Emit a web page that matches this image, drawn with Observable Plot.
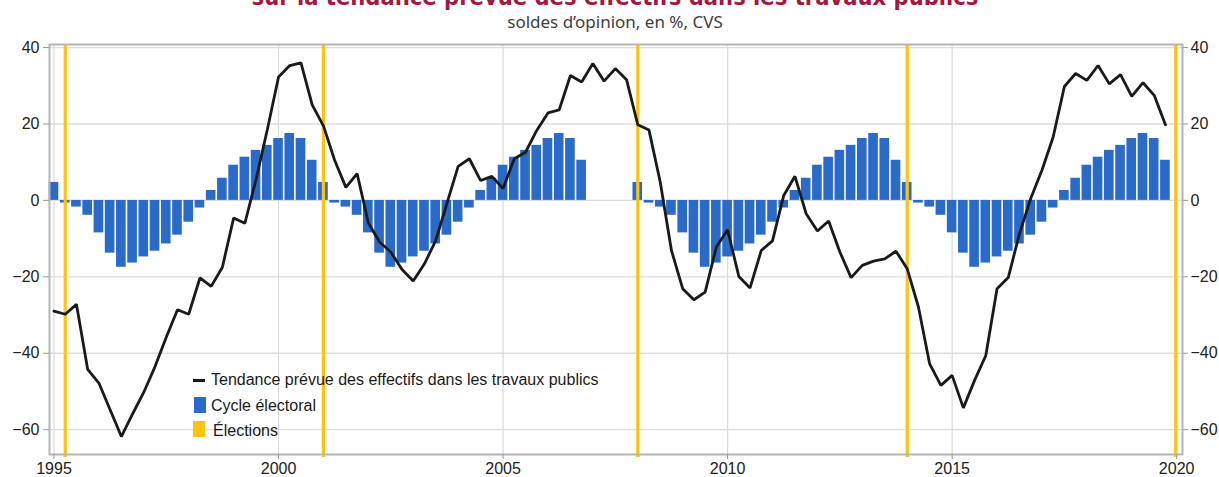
<!DOCTYPE html>
<html>
<head>
<meta charset="utf-8">
<script src="https://cdn.jsdelivr.net/npm/d3@7"></script>
<script src="https://cdn.jsdelivr.net/npm/@observablehq/plot@0.6"></script>
<style>
  html, body { margin: 0; padding: 0; background: #fff; }
  #wrap { position: relative; width: 1219px; height: 477px; overflow: hidden; font-family: "Liberation Sans", Arial, sans-serif; }
  #chart { position: absolute; left: 0; top: 0; }
  .title { position: absolute; left: 0; width: 1230px; text-align: center; top: -14px; line-height: 23.5px;
           font-family: "DejaVu Sans Condensed", "DejaVu Sans", sans-serif; font-stretch: condensed;
           font-weight: bold; font-size: 23.5px; color: #a6173f; white-space: nowrap; }
  .subtitle { position: absolute; left: 0; width: 1230px; text-align: center; top: 12px; line-height: 20px;
              font-family: "Noto Sans", sans-serif; font-size: 17px; color: #404040; white-space: nowrap; }
  .lg { position: absolute; font-size: 16px; line-height: 18px; color: #1a1a1a; white-space: nowrap; }
  .sw { position: absolute; }
</style>
</head>
<body>
<div id="wrap">
  <div id="chart"></div>
  <div class="title" id="title"></div>
  <div class="subtitle" id="subtitle"></div>
  <div id="legend"></div>
</div>
<script>
// ---- Data ----
const titleText = "sur la tendance prévue des effectifs dans les travaux publics";
const subtitleText = "soldes d’opinion, en %, CVS";

const seriesNames = ["Tendance prévue des effectifs dans les travaux publics", "Cycle électoral", "Élections"];

// Quarterly series, first quarter = 1995 Q1, last = 2019 Q4
const lineStartYear = 1995;
const tendance = [
  -29.0, -29.8, -27.2, -44.2, -47.8, -54.8, -61.8, -55.9, -50.2, -43.5,
  -35.8, -28.6, -29.8, -20.3, -22.5, -17.5, -4.6, -6.0, 5.5, 18.5,
  32.3, 35.3, 36.0, 25.0, 19.5, 10.5, 3.4, 7.0, -5.9, -10.9,
  -13.5, -18.1, -21.1, -16.6, -10.5, -0.8, 8.9, 10.9, 5.2, 6.3,
  3.1, 10.9, 12.6, 18.3, 22.9, 23.7, 32.7, 31.0, 35.8, 31.2,
  34.5, 31.6, 19.8, 18.4, 4.8, -13.1, -23.1, -26.0, -24.0, -12.2,
  -7.7, -19.9, -22.9, -13.1, -10.6, 1.3, 6.3, -3.5, -8.0, -5.4,
  -13.5, -20.2, -17.0, -15.9, -15.3, -13.3, -17.9, -27.9, -42.8, -48.4,
  -45.8, -54.3, -47.1, -40.6, -23.1, -20.2, -8.7, 0.5, 7.9, 16.6,
  29.8, 33.2, 31.4, 35.3, 30.5, 32.9, 27.2, 30.8, 27.5, 19.8
];

// Electoral cycle: quarterly profile (24 quarters) starting at each cycle start
const cycleStarts = [1995, 2001, 2008, 2014];
const cycleProfile = [
  4.7, -0.7, -1.75, -3.9, -8.5, -13.8, -17.5, -16.4, -14.8, -13.3, -11.4, -9.1,
  -5.7, -2.0, 2.6, 5.8, 9.2, 11.3, 13.1, 14.4, 16.2, 17.5, 16.2, 10.5
];

// Election dates (decimal years)
const elections = [1995.25, 2001.0, 2008.0, 2014.0, 2019.98];

const xTicks = [1995, 2000, 2005, 2010, 2015, 2020];
const yTicks = [-60, -40, -20, 0, 20, 40];

// ---- Build tables ----
const lineData = tendance.map((v, i) => ({t: lineStartYear + i / 4, v}));
const barData = cycleStarts.flatMap(s => cycleProfile.map((v, i) => ({t: s + i / 4, v})));

const blue = "#2a6bc9", gold = "#ffc20e", ink = "#1a1a1a";

const chart = Plot.plot({
  width: 1219,
  height: 477,
  marginLeft: 49,
  marginRight: 37,
  marginTop: 44,
  marginBottom: 23,
  style: {fontFamily: "Liberation Sans, Arial, sans-serif", fontSize: "16px", background: "white", color: "#222"},
  x: {domain: [1994.9, 2020.13]},
  y: {domain: [-66.5, 40.8]},
  marks: [
    Plot.gridY(yTicks, {stroke: "#dcdcdc", strokeOpacity: 1, strokeWidth: 1.3}),
    Plot.gridX(xTicks, {stroke: "#dcdcdc", strokeOpacity: 1, strokeWidth: 1.3}),
    Plot.rectY(barData, {x1: d => d.t - 0.125, x2: d => d.t + 0.125, y1: 0, y2: "v", fill: blue, insetLeft: 0.8, insetRight: 0.8}),
    Plot.ruleX(elections, {x: d => d, stroke: gold, strokeWidth: 3.2, insetBottom: -3}),
    Plot.line(lineData, {x: "t", y: "v", stroke: ink, strokeWidth: 2.8, strokeLinejoin: "miter"}),
    Plot.frame({stroke: "#b5b5b5", strokeWidth: 2}),
    Plot.axisY(yTicks, {anchor: "left", tickSize: 6, tickPadding: 4, stroke: "#999", fill: "#222", fontSize: 16, label: null}),
    Plot.axisY(yTicks, {anchor: "right", tickSize: 5, tickPadding: 3, stroke: "#999", fill: "#222", fontSize: 16, label: null}),
    Plot.axisX(xTicks, {anchor: "bottom", tickSize: 5, tickPadding: 3, tickFormat: d => String(d), stroke: "#999", fill: "#222", fontSize: 16, label: null})
  ]
});
document.getElementById("chart").append(chart);

document.getElementById("title").textContent = titleText;
document.getElementById("subtitle").textContent = subtitleText;

// ---- Legend (HTML overlay inside the plot area) ----
const legend = document.getElementById("legend");
const rows = [
  {name: seriesNames[0], sw: {left: 193, top: 379, width: 12, height: 3, background: ink}, text: {left: 211, top: 370.5}},
  {name: seriesNames[1], sw: {left: 194, top: 397, width: 12, height: 16, background: blue}, text: {left: 211, top: 396.5}},
  {name: seriesNames[2], sw: {left: 193, top: 421, width: 12, height: 16, background: gold}, text: {left: 213, top: 421.5}}
];
for (const r of rows) {
  const s = document.createElement("div");
  s.className = "sw";
  Object.assign(s.style, {left: r.sw.left + "px", top: r.sw.top + "px", width: r.sw.width + "px", height: r.sw.height + "px", background: r.sw.background});
  legend.append(s);
  const t = document.createElement("div");
  t.className = "lg";
  t.style.left = r.text.left + "px";
  t.style.top = r.text.top + "px";
  t.textContent = r.name;
  legend.append(t);
}
</script>
</body>
</html>
